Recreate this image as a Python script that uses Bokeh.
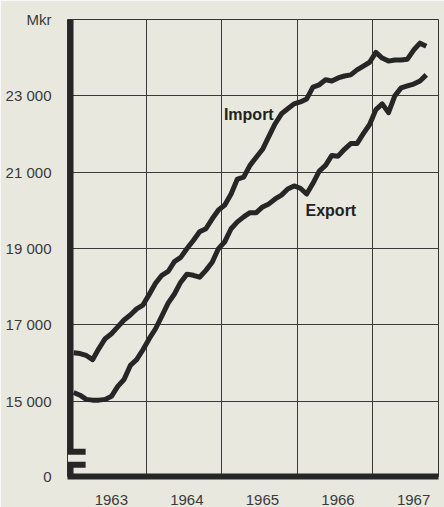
from bokeh.plotting import figure
from bokeh.models import Range1d, FixedTicker, ColumnDataSource
from bokeh.embed import file_html
from bokeh.resources import INLINE
from bokeh.core.properties import value

# ---- data (Mkr, monthly, Jan 1963 .. Sep 1967) ----
start_year = 1963
import_values = [16270, 16250, 16200, 16090, 16380, 16640, 16770, 16950, 17130, 17260, 17420, 17520,
                 17800, 18090, 18300, 18400, 18660, 18770, 19000, 19210, 19440, 19520, 19780, 20010,
                 20140, 20430, 20820, 20870, 21180, 21390, 21600, 21940, 22270, 22530, 22660, 22790,
                 22840, 22920, 23230, 23290, 23420, 23390, 23470, 23520, 23550, 23680, 23780, 23880,
                 24140, 23990, 23910, 23940, 23940, 23960, 24200, 24380, 24300]
export_values = [15230, 15160, 15050, 15030, 15030, 15050, 15130, 15390, 15570, 15940, 16090, 16350,
                 16640, 16900, 17230, 17570, 17810, 18120, 18330, 18300, 18250, 18430, 18640, 19000,
                 19180, 19520, 19700, 19830, 19940, 19940, 20090, 20170, 20300, 20400, 20560, 20640,
                 20580, 20430, 20710, 21030, 21180, 21440, 21420, 21600, 21750, 21750, 22010, 22250,
                 22640, 22790, 22560, 23000, 23210, 23260, 23310, 23390, 23550]
years = [1963, 1964, 1965, 1966, 1967]
year_labels = ["1963", "1964", "1965", "1966", "1967"]
y_ticks = [15000, 17000, 19000, 21000, 23000]
y_tick_labels = ["15 000", "17 000", "19 000", "21 000", "23 000"]
unit_label = "Mkr"
zero_label = "0"
series_labels = ["Import", "Export"]

# ---- layout helpers ----
x_start, x_end = 1962.96, 1967.87
y_bottom, y_top = 13030, 25000
break_low, break_high = 13338, 13675
break_x_end = 1963.2

paper = "#e8e8df"
ink = "#262626"

x = [start_year + (i + 0.5) / 12 for i in range(len(import_values))]
src = ColumnDataSource(dict(x=x, imp=import_values, exp=export_values))

p = figure(width=444, height=507, output_backend="svg", toolbar_location=None,
           x_range=Range1d(x_start, x_end), y_range=Range1d(y_bottom, y_top),
           min_border_left=67, min_border_right=6, min_border_top=19, min_border_bottom=27)
p.background_fill_color = paper
p.border_fill_color = paper
p.outline_line_color = "#333333"
p.outline_line_width = 1

# grids
p.xgrid.ticker = FixedTicker(ticks=years[1:])
p.ygrid.ticker = FixedTicker(ticks=y_ticks)
for g in (p.xgrid, p.ygrid):
    g.grid_line_color = "#3a3a3a"
    g.grid_line_width = 1
    g.grid_line_alpha = 1

# x axis: labels centred in each year column
label_pos = [yr + 0.54 for yr in years]
p.xaxis.ticker = FixedTicker(ticks=label_pos)
p.xaxis.major_label_overrides = {pos: lab for pos, lab in zip(label_pos, year_labels)}
p.xaxis.major_tick_line_color = None
p.xaxis.minor_tick_line_color = None
p.xaxis.axis_line_width = 6
p.xaxis.axis_line_color = ink
p.xaxis.major_label_standoff = 12
p.xaxis.major_label_text_font = "Liberation Sans"
p.xaxis.major_label_text_font_size = "15px"
p.xaxis.major_label_text_color = "#3a3a3a"

# y axis with break
yt = [y_bottom] + y_ticks + [y_top]
overrides = {y_bottom: zero_label, y_top: unit_label}
overrides.update({t: lab for t, lab in zip(y_ticks, y_tick_labels)})
p.yaxis.ticker = FixedTicker(ticks=yt)
p.yaxis.major_label_overrides = overrides
p.yaxis.major_tick_line_color = None
p.yaxis.minor_tick_line_color = None
p.yaxis.axis_line_color = None
p.yaxis.major_label_standoff = 10
p.yaxis.major_label_text_font = "Liberation Sans"
p.yaxis.major_label_text_font_size = "15px"
p.yaxis.major_label_text_color = "#3a3a3a"

# thick left axis line drawn in two pieces around the break
p.segment(x0=[start_year, start_year], y0=[y_bottom, break_high],
          x1=[start_year, start_year], y1=[break_low, y_top],
          line_width=6, line_color=ink)
p.segment(x0=[x_start, x_start], y0=[break_low, break_high],
          x1=[break_x_end, break_x_end], y1=[break_low, break_high],
          line_width=6, line_color=ink)

# series
p.line("x", "imp", source=src, line_width=5, line_color=ink, line_join="round")
p.line("x", "exp", source=src, line_width=5, line_color=ink, line_join="round")

p.text(x=[1965.03, 1966.11], y=[22507, 19987], text=series_labels,
       text_font=value("Liberation Sans"), text_font_size="16px", text_font_style="bold",
       text_color="#222222", text_align="left", text_baseline="alphabetic")

open("out.html", "w").write(file_html(p, INLINE))
